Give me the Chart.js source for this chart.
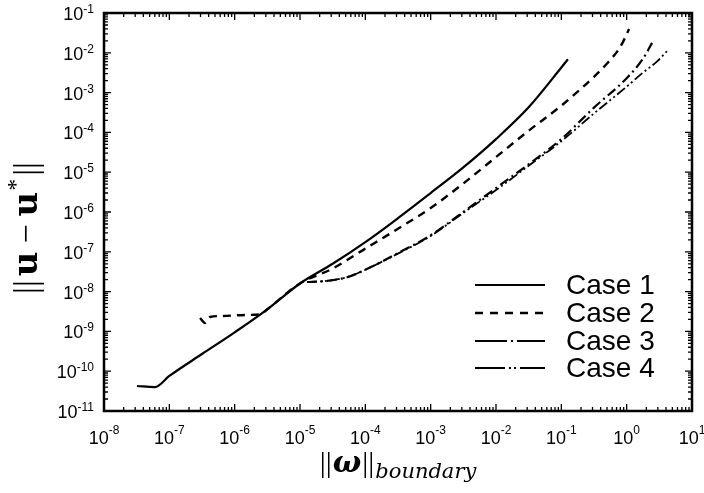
<!DOCTYPE html>
<html>
<head>
<meta charset="utf-8">
<script src="https://cdn.jsdelivr.net/npm/chart.js@4.4.1/dist/chart.umd.min.js"></script>
<style>
  body { margin: 0; background: #fff; }
  #c { display: block; }
</style>
</head>
<body>
<canvas id="c" width="704" height="493"></canvas>
<script>
// values (x = ||w||, y = ||u - u*||)
const case1X = [3.2e-8, 6.0e-8, 1e-7, 3.16e-7, 1e-6, 3.16e-6, 1e-5, 3.16e-5, 1e-4, 3.16e-4, 1e-3, 3.16e-3, 1e-2, 3.16e-2, 0.1, 0.126]
const case1Y = [4.25e-11, 4.0e-11, 7.6e-11, 2.7e-10, 9.5e-10, 3.6e-9, 1.6e-8, 5.0e-8, 1.75e-7, 7.0e-7, 3.0e-6, 1.32e-5, 6.8e-5, 4.27e-4, 4.27e-3, 6.9e-3]

const case2X = [2.95e-7, 3.52e-7, 4.2e-7, 6.4e-7, 1.6e-6, 2.5e-6, 3.16e-6, 1e-5, 3.16e-5, 1e-4, 3.16e-4, 1e-3, 3.16e-3, 1e-2, 3.16e-2, 0.1, 0.316, 0.5, 0.794, 1.09]
const case2Y = [2.17e-9, 1.63e-9, 2.3e-9, 2.44e-9, 2.6e-9, 2.7e-9, 3.6e-9, 1.6e-8, 3.8e-8, 1.2e-7, 3.8e-7, 1.26e-6, 5.2e-6, 2.4e-5, 1.1e-4, 4.7e-4, 2.5e-3, 5.4e-3, 1.38e-2, 3.98e-2]

const case3X = [1.28e-5, 2.57e-5, 5.25e-5, 1e-4, 3.16e-4, 1e-3, 3.16e-3, 1e-2, 3.16e-2, 0.1, 0.316, 1.0, 1.78, 2.45]
const case3Y = [1.74e-8, 1.86e-8, 2.3e-8, 3.55e-8, 9.3e-8, 2.6e-7, 1.0e-6, 4.0e-6, 1.58e-5, 6.8e-5, 4.2e-4, 2.3e-3, 7.1e-3, 1.78e-2]

const case4X = [1.28e-5, 2.57e-5, 5.25e-5, 1e-4, 3.16e-4, 1e-3, 3.16e-3, 1e-2, 3.16e-2, 0.1, 0.316, 1.0, 1.78, 2.9, 4.3]
const case4Y = [1.74e-8, 1.86e-8, 2.3e-8, 3.55e-8, 9.0e-8, 2.5e-7, 9.5e-7, 3.55e-6, 1.45e-5, 6.0e-5, 3.0e-4, 1.41e-3, 3.2e-3, 6.0e-3, 1.17e-2]

const labels = ['Case 1', 'Case 2', 'Case 3', 'Case 4']
const xDecades = [-8, -7, -6, -5, -4, -3, -2, -1, 0, 1]
const yDecades = [-11, -10, -9, -8, -7, -6, -5, -4, -3, -2, -1]

const dashes = [[], [8, 6], [10, 4, 2, 4], [10, 3, 2, 3, 2, 3]]
const widths = [2.2, 2.4, 2.2, 1.8]
const legendDashes = [[], [8, 7], [32, 4, 2, 4, 60], [30, 4, 2, 3, 2, 4, 60]]

function pts(xs, ys) {
  return xs.map((x, i) => ({ x: x, y: ys[i] }))
}

const series = [[case1X, case1Y], [case2X, case2Y], [case3X, case3Y], [case4X, case4Y]]

const data = {
  datasets: series.map((s, i) => ({
    label: labels[i],
    data: pts(s[0], s[1]),
    borderColor: '#000',
    borderWidth: widths[i],
    borderDash: dashes[i],
    pointRadius: 0,
    cubicInterpolationMode: 'monotone',
    fill: false
  }))
}

// frame, inward ticks, 10^n labels, titles and legend
const decor = {
  id: 'decor',
  afterDatasetsDraw(chart) {
    const ctx = chart.ctx
    const a = chart.chartArea
    const xs = chart.scales.x
    const ys = chart.scales.y
    ctx.save()
    ctx.strokeStyle = '#000'
    ctx.fillStyle = '#000'

    // ticks
    ctx.lineWidth = 1.3
    ctx.setLineDash([])
    ctx.beginPath()
    xDecades.forEach(d => {
      for (let k = 1; k <= 9; k++) {
        const v = k * Math.pow(10, d)
        if (v > xs.max * 1.0001) break
        const px = xs.getPixelForValue(v)
        const len = k === 1 ? 7 : 4
        ctx.moveTo(px, a.bottom); ctx.lineTo(px, a.bottom - len)
        ctx.moveTo(px, a.top); ctx.lineTo(px, a.top + len)
      }
    })
    yDecades.forEach(d => {
      for (let k = 1; k <= 9; k++) {
        const v = k * Math.pow(10, d)
        if (v > ys.max * 1.0001) break
        const py = ys.getPixelForValue(v)
        const len = k === 1 ? 7 : 4
        ctx.moveTo(a.left, py); ctx.lineTo(a.left + len, py)
        ctx.moveTo(a.right, py); ctx.lineTo(a.right - len, py)
      }
    })
    ctx.stroke()

    // frame
    ctx.lineWidth = 2.5
    ctx.strokeRect(a.left, a.top, a.right - a.left, a.bottom - a.top)

    // tick labels
    const big = '18px "Liberation Sans"'
    const small = '12px "Liberation Sans"'
    ctx.textBaseline = 'alphabetic'
    ctx.textAlign = 'left'
    xDecades.forEach(d => {
      const px = xs.getPixelForValue(Math.pow(10, d))
      const e = d < 0 ? '-' + (-d) : '' + d
      ctx.font = big
      const w1 = ctx.measureText('10').width
      ctx.font = small
      const w2 = ctx.measureText(e).width
      const x0 = px - (w1 + w2) / 2
      ctx.font = big
      ctx.fillText('10', x0, a.bottom + 33)
      ctx.font = small
      ctx.fillText(e, x0 + w1, a.bottom + 23)
    })
    yDecades.forEach(d => {
      const py = ys.getPixelForValue(Math.pow(10, d))
      const e = d < 0 ? '-' + (-d) : '' + d
      ctx.font = small
      const w2 = ctx.measureText(e).width
      ctx.font = big
      const w1 = ctx.measureText('10').width
      const x1 = a.left - 10
      ctx.fillText('10', x1 - w2 - w1, py + 7)
      ctx.font = small
      ctx.fillText(e, x1 - w2, py)
    })

    // x title  ||w||_boundary
    let parts = [
      { t: '||', f: '30px "Liberation Serif"', dy: 0, gap: 1 },
      { t: '\u03C9', f: 'bold italic 30px "DejaVu Serif"', dy: 0, gap: 1 },
      { t: '||', f: '30px "Liberation Serif"', dy: 0, gap: 1 },
      { t: 'boundary', f: 'italic 21px "DejaVu Serif"', dy: 6, gap: 0 }
    ]
    let total = 0
    parts.forEach(p => { ctx.font = p.f; p.w = ctx.measureText(p.t).width; total += p.w + p.gap })
    let cx = (a.left + a.right) / 2 - total / 2
    parts.forEach(p => {
      ctx.font = p.f
      ctx.fillText(p.t, cx, 472 + p.dy)
      cx += p.w + p.gap
    })

    // y title  ||u - u*||  (rotated)
    parts = [
      { t: '||', f: '34px "Liberation Serif"', dy: 0, gap: 4 },
      { t: 'u', f: 'bold 34px "DejaVu Serif"', dy: 0, gap: 8 },
      { t: '\u2212', f: '34px "Liberation Serif"', dy: 0, gap: 8 },
      { t: 'u', f: 'bold 34px "DejaVu Serif"', dy: 0, gap: 1 },
      { t: '*', f: '24px "Liberation Serif"', dy: -14, gap: 3 },
      { t: '||', f: '34px "Liberation Serif"', dy: 0, gap: 0 }
    ]
    total = 0
    parts.forEach(p => { ctx.font = p.f; p.w = ctx.measureText(p.t).width; total += p.w + p.gap })
    ctx.save()
    ctx.translate(37, 228)
    ctx.rotate(-Math.PI / 2)
    cx = -total / 2
    parts.forEach(p => {
      ctx.font = p.f
      ctx.fillText(p.t, cx, p.dy)
      cx += p.w + p.gap
    })
    ctx.restore()

    // legend
    const lx0 = 475, lx1 = 545
    const ly = [285, 313, 341, 368]
    chart.data.datasets.forEach((ds, i) => {
      ctx.lineWidth = ds.borderWidth
      ctx.setLineDash(legendDashes[i])
      ctx.beginPath()
      ctx.moveTo(lx0, ly[i])
      ctx.lineTo(lx1, ly[i])
      ctx.stroke()
      ctx.setLineDash([])
      ctx.font = '28px "Liberation Sans"'
      ctx.fillText(ds.label, 566, ly[i] + 9)
    })
    ctx.restore()
  }
}

const config = {
  type: 'line',
  data: data,
  options: {
    responsive: false,
    animation: false,
    devicePixelRatio: 1,
    layout: { padding: { left: 104, right: 12, top: 13, bottom: 82 } },
    scales: {
      x: { type: 'logarithmic', min: 1e-8, max: 10, display: false },
      y: { type: 'logarithmic', min: 1e-11, max: 0.1, display: false }
    },
    plugins: { legend: { display: false }, tooltip: { enabled: false } }
  },
  plugins: [decor]
}

const myChart = new Chart(document.getElementById('c'), config)
</script>
</body>
</html>
